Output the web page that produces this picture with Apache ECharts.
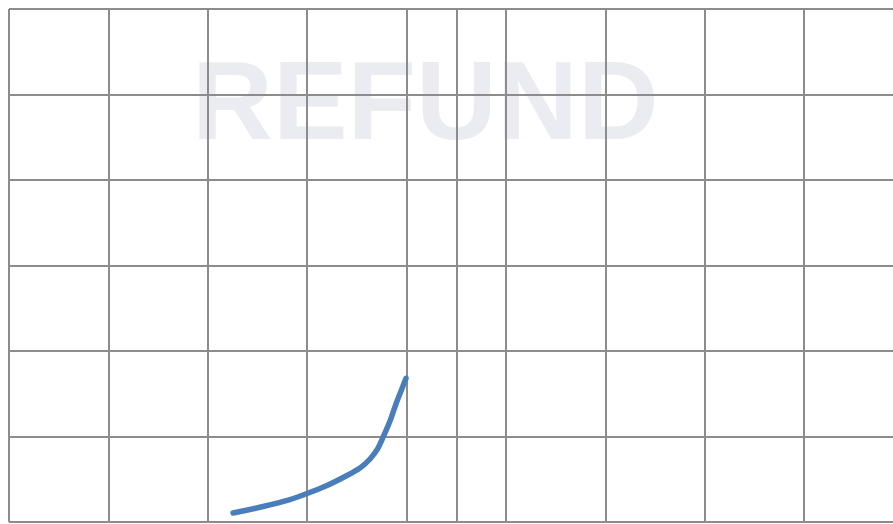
<!DOCTYPE html>
<html>
<head>
<meta charset="utf-8">
<script src="https://cdn.jsdelivr.net/npm/echarts@6/dist/echarts.min.js"></script>
<style>html,body{margin:0;padding:0;background:#fff;}#c{width:893px;height:524px;}</style>
</head>
<body>
<div id="c"></div>
<script>
var xValues = [2.254, 2.555, 2.827, 2.998, 3.199, 3.400, 3.531, 3.632, 3.712, 3.773, 3.833, 3.893, 3.944, 3.994];
var yValues = [1.05, 1.81, 2.63, 3.33, 4.27, 5.44, 6.32, 7.37, 8.65, 10.18, 11.81, 13.80, 15.32, 16.81];
var markX = [4.5];
var watermarkText = 'REFUND';

var chart = echarts.init(document.getElementById('c'));
var gridLine = { show: true, showMaxLine: false, lineStyle: { color: '#8c8c8c', width: 2, type: 'solid' } };
chart.setOption({
  animation: false,
  backgroundColor: '#ffffff',
  graphic: [{
    type: 'text',
    z: -10,
    silent: true,
    left: 192,
    top: 52,
    style: {
      text: watermarkText,
      font: 'bold 112px "Liberation Sans", Arial, sans-serif',
      fill: '#ebebf2'
    }
  }],
  grid: { left: 9, top: 9, right: 0, bottom: 2, containLabel: false },
  xAxis: {
    type: 'value', min: 0, max: 8.893, interval: 1,
    axisLine: { show: false }, axisTick: { show: false }, axisLabel: { show: false },
    splitLine: gridLine
  },
  yAxis: {
    type: 'value', min: 0, max: 60, interval: 10,
    axisLine: { show: false }, axisTick: { show: false }, axisLabel: { show: false },
    splitLine: { show: true, lineStyle: { color: '#8c8c8c', width: 2, type: 'solid' } }
  },
  series: [{
    type: 'line',
    data: xValues.map(function (x, i) { return [x, yValues[i]]; }),
    smooth: 0.3,
    showSymbol: false,
    lineStyle: { color: '#4a7ebb', width: 5.5, cap: 'round', join: 'round' },
    markLine: {
      silent: true,
      symbol: ['none', 'none'],
      label: { show: false },
      lineStyle: { color: '#8c8c8c', width: 2, type: 'solid' },
      data: markX.map(function (v) { return { xAxis: v }; })
    }
  }]
});
</script>
</body>
</html>
